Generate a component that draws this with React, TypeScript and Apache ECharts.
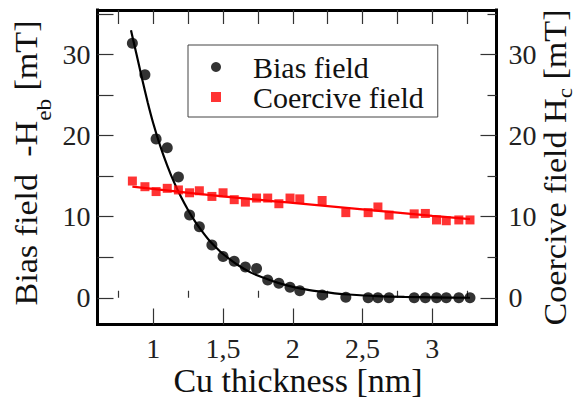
import React, { useEffect, useRef } from "react";
import * as echarts from "echarts";

// Cu thickness (nm) of the measured samples
const thickness = [0.85, 0.94, 1.02, 1.1, 1.18, 1.26, 1.33, 1.42, 1.5, 1.58, 1.66, 1.74, 1.82, 1.9, 1.98, 2.05, 2.21, 2.38, 2.54, 2.61, 2.69, 2.87, 2.95, 3.03, 3.1, 3.19, 3.27];
// Bias field -Heb (mT)
const biasField = [31.4, 27.5, 19.6, 18.5, 14.9, 10.2, 8.75, 6.5, 5.1, 4.5, 3.8, 3.6, 2.2, 1.8, 1.3, 0.85, 0.35, 0.05, 0, 0, 0, 0, 0, 0, 0, 0, 0];
// Coercive field Hc (mT)
const coerciveField = [14.4, 13.7, 13.1, 13.5, 13.3, 12.95, 13.2, 12.5, 12.95, 12.1, 11.8, 12.3, 12.3, 11.6, 12.3, 12.2, 12.0, 10.5, 10.5, 11.2, 10.2, 10.35, 10.4, 9.6, 9.5, 9.6, 9.6];

// Fit curves
const biasFitX = [0.84, 0.88, 0.92, 0.96, 1.0, 1.05, 1.1, 1.15, 1.2, 1.25, 1.3, 1.35, 1.4, 1.45, 1.5, 1.6, 1.7, 1.8, 1.9, 2.0, 2.1, 2.2, 2.3, 2.4, 2.6, 2.8, 3.0, 3.27];
const biasFitY = [33.0, 30.0, 27.0, 24.1, 21.5, 18.7, 16.3, 14.2, 12.4, 10.8, 9.4, 8.2, 7.1, 6.2, 5.4, 4.1, 3.1, 2.4, 1.8, 1.35, 1.0, 0.75, 0.55, 0.4, 0.2, 0.1, 0.05, 0.0];
const coerciveFitX = [0.85, 1.5, 2.0, 2.5, 3.0, 3.27];
const coerciveFitY = [13.7, 12.5, 11.7, 10.9, 10.1, 9.7];

// Axis ticks and labels
const xMajor = [1, 1.5, 2, 2.5, 3];
const xMinor = [0.75, 1.25, 1.75, 2.25, 2.75, 3.25];
const xAll = [0.75, 1, 1.25, 1.5, 1.75, 2, 2.25, 2.5, 2.75, 3, 3.25];
const yMajor = [0, 10, 20, 30];
const yMinor = [5, 15, 25, 35];
const yAll = [0, 5, 10, 15, 20, 25, 30, 35];

const FONT = "Liberation Serif, serif";

export default function App() {
  const ref = useRef<HTMLDivElement>(null);

  useEffect(() => {
    if (!ref.current) return;
    const chart = echarts.init(ref.current, undefined, { renderer: "svg" });

    const tickStyle = { color: "#333", width: 1.2 };
    const frameLine = { show: true, onZero: false, lineStyle: { color: "#000", width: 3, cap: "square" } };
    const labelBase = { fontFamily: FONT, fontSize: 28, color: "#222" };

    const option: any = {
      animation: false,
      backgroundColor: "#fff",
      grid: { left: 97.5, top: 10, width: 399, height: 314.5, show: false },
      legend: {
        orient: "vertical",
        left: 188,
        top: 45,
        padding: [7, 14, 5, 23],
        itemGap: 0,
        itemWidth: 10,
        itemHeight: 10,
        borderColor: "#444",
        borderWidth: 1,
        backgroundColor: "#fff",
        textStyle: { fontFamily: FONT, fontSize: 30, color: "#111", lineHeight: 30, padding: [0, 0, 0, 27] },
        data: [
          { name: "Bias field", icon: "circle" },
          { name: "Coercive field", icon: "rect" },
        ],
      },
      xAxis: [
        {
          type: "value", position: "bottom", min: 0.6, max: 3.46,
          axisLine: frameLine,
          axisTick: { show: true, inside: true, length: 16, customValues: xMajor, lineStyle: tickStyle },
          axisLabel: { ...labelBase, margin: 10, customValues: xMajor, formatter: (v: number) => String(v).replace(".", ",") },
          splitLine: { show: false },
        },
        {
          type: "value", position: "bottom", min: 0.6, max: 3.46,
          axisLine: { show: false },
          axisTick: { show: true, inside: true, length: 7, customValues: xMinor, lineStyle: tickStyle },
          axisLabel: { show: false },
          splitLine: { show: false },
        },
        {
          type: "value", position: "top", min: 0.6, max: 3.46,
          axisLine: frameLine,
          axisTick: { show: true, inside: true, length: 14, customValues: xAll, lineStyle: tickStyle },
          axisLabel: { show: false },
          splitLine: { show: false },
        },
      ],
      yAxis: [
        {
          type: "value", position: "left", min: -3.3, max: 35.5,
          axisLine: frameLine,
          axisTick: { show: true, inside: true, length: 16, customValues: yAll, lineStyle: tickStyle },
          axisLabel: { ...labelBase, margin: 7, customValues: yMajor },
          splitLine: { show: false },
        },
        {
          type: "value", position: "right", min: -3.3, max: 35.5,
          axisLine: frameLine,
          axisTick: { show: true, inside: true, length: 16, customValues: yMajor, lineStyle: tickStyle },
          axisLabel: { ...labelBase, margin: 12, customValues: yMajor },
          splitLine: { show: false },
        },
        {
          type: "value", position: "right", min: -3.3, max: 35.5,
          axisLine: { show: false },
          axisTick: { show: true, inside: true, length: 9, customValues: yMinor, lineStyle: tickStyle },
          axisLabel: { show: false },
          splitLine: { show: false },
        },
      ],
      graphic: [
        {
          type: "text", x: 298, y: 381, scaleX: 1.03, z: 10,
          style: { text: "Cu thickness [nm]", fontFamily: FONT, fontSize: 33, fill: "#111", align: "center", verticalAlign: "middle" },
        },
        {
          type: "text", x: 26.7, y: 163, rotation: Math.PI / 2, scaleX: 1.1, z: 10,
          style: {
            text: "{m|Bias field  -H}{s|eb}{m| [mT]}",
            align: "center", verticalAlign: "middle", fill: "#111",
            rich: {
              m: { fontFamily: FONT, fontSize: 31, lineHeight: 55, verticalAlign: "middle", fill: "#111" },
              s: { fontFamily: FONT, fontSize: 21, lineHeight: 22, verticalAlign: "bottom", fill: "#111" },
            },
          },
        },
        {
          type: "text", x: 555.5, y: 167.5, rotation: Math.PI / 2, scaleX: 1.1, z: 10,
          style: {
            text: "{m|Coercive field H}{s|c}{m| [mT]}",
            align: "center", verticalAlign: "middle", fill: "#111",
            rich: {
              m: { fontFamily: FONT, fontSize: 31, lineHeight: 40, verticalAlign: "middle", fill: "#111" },
              s: { fontFamily: FONT, fontSize: 21, lineHeight: 12, verticalAlign: "bottom", fill: "#111" },
            },
          },
        },
      ],
      series: [
        {
          name: "Bias fit", type: "line", xAxisIndex: 0, yAxisIndex: 0,
          data: biasFitX.map((x, i) => [x, biasFitY[i]]),
          smooth: 0.25, showSymbol: false, symbol: "none",
          lineStyle: { color: "#000", width: 2.2 }, z: 2,
        },
        {
          name: "Coercive fit", type: "line", xAxisIndex: 0, yAxisIndex: 1,
          data: coerciveFitX.map((x, i) => [x, coerciveFitY[i]]),
          smooth: 0.4, showSymbol: false, symbol: "none",
          lineStyle: { color: "#ff0000", width: 2.2 }, z: 2,
        },
        {
          name: "Bias field", type: "scatter", xAxisIndex: 0, yAxisIndex: 0,
          data: thickness.map((x, i) => [x, biasField[i]]),
          symbol: "circle", symbolSize: 11,
          itemStyle: { color: "#000" }, z: 3,
        },
        {
          name: "Coercive field", type: "scatter", xAxisIndex: 0, yAxisIndex: 1,
          data: thickness.map((x, i) => [x, coerciveField[i]]),
          symbol: "rect", symbolSize: 9,
          itemStyle: { color: "#ff0000" }, z: 3,
        },
      ],
    };

    chart.setOption(option);
    return () => chart.dispose();
  }, []);

  return (
    <div
      ref={ref}
      style={{ position: "absolute", left: 0, top: 0, width: 577, height: 399, background: "#fff" }}
    />
  );
}
